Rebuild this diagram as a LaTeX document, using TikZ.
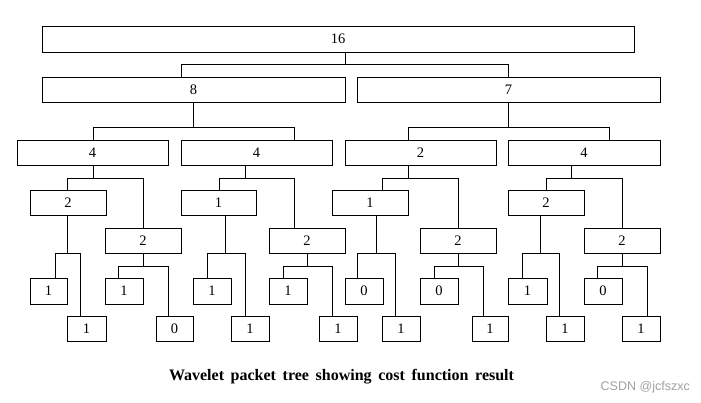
\documentclass[tikz,border=0pt]{standalone}
\usepackage{fontspec}
\setmainfont{Liberation Serif}
\newfontfamily\wmfont{Liberation Sans}
\definecolor{wmgray}{HTML}{A0A0A0}
\newcommand\wbox[6]{\node[box, minimum width={#4-#2}, minimum height={#5-#3}] (#1) at ({(#2+#4)/2},{(#3+#5)/2}) {#6};}
\newcommand\wconn[7]{%
  \coordinate (#1-j) at (#2,#3);
  \coordinate (#1-l) at (#5,#3);
  \coordinate (#1-r) at (#7,#3);
  \draw[link] (#1.south -| #1-j) -- (#1-j);
  \draw[link] (#4.north -| #1-l) -- (#1-l) -- (#1-r) -- (#6.north -| #1-r);}
\begin{document}
\begin{tikzpicture}[x=1pt,y=-1pt,
  box/.style={draw, line width=0.9pt, inner sep=0pt, outer sep=0pt, font=\fontsize{14.5}{14.5}\selectfont},
  link/.style={line width=0.9pt}]
\fill[white] (0,0) rectangle (701,402);
\useasboundingbox (0,0) rectangle (701,402);
% level 0
\wbox{n16}{42}{26}{634}{52}{16}
% level 1
\wbox{n8}{42}{77}{345}{102}{8}
\wbox{n7}{357}{77}{660}{102}{7}
% level 2
\wbox{a}{17}{140}{168}{165}{4}
\wbox{b}{181}{140}{332}{165}{4}
\wbox{c}{345}{140}{496}{165}{2}
\wbox{d}{508}{140}{660}{165}{4}
% level 3
\wbox{aa}{30}{190}{106}{215}{2}
\wbox{ab}{105}{228}{181}{253}{2}
\wbox{ba}{181}{190}{256}{215}{1}
\wbox{bb}{269}{228}{345}{253}{2}
\wbox{ca}{332}{190}{408}{215}{1}
\wbox{cb}{420}{228}{496}{253}{2}
\wbox{da}{508}{190}{584}{215}{2}
\wbox{db}{584}{228}{660}{253}{2}
% level 4
\wbox{aaa}{30}{278}{67}{304}{1}
\wbox{aab}{67}{316}{106}{341}{1}
\wbox{aba}{105}{278}{143}{304}{1}
\wbox{abb}{156}{316}{193}{341}{0}
\wbox{baa}{193}{278}{231}{304}{1}
\wbox{bab}{231}{316}{269}{341}{1}
\wbox{bba}{269}{278}{307}{304}{1}
\wbox{bbb}{319}{316}{357}{341}{1}
\wbox{caa}{345}{278}{383}{304}{0}
\wbox{cab}{382}{316}{420}{341}{1}
\wbox{cba}{420}{278}{458}{304}{0}
\wbox{cbb}{472}{316}{508}{341}{1}
\wbox{daa}{508}{278}{547}{304}{1}
\wbox{dab}{546}{316}{584}{341}{1}
\wbox{dba}{584}{278}{622}{304}{0}
\wbox{dbb}{622}{316}{660}{341}{1}
% connectors
\wconn{n16}{345}{64}{n8}{181}{n7}{508.5}
\wconn{n8}{193}{127}{a}{93}{b}{294}
\wconn{n7}{508.5}{127}{c}{408.5}{d}{609}
\wconn{a}{93}{178}{aa}{67}{ab}{143}
\wconn{b}{245}{178}{ba}{219}{bb}{294}
\wconn{c}{408.5}{178}{ca}{382}{cb}{458}
\wconn{d}{571}{178}{da}{546}{db}{622.5}
\wconn{aa}{67}{253}{aaa}{55}{aab}{80}
\wconn{ab}{143}{266.7}{aba}{118}{abb}{168}
\wconn{ba}{225.7}{253}{baa}{207}{bab}{245}
\wconn{bb}{307}{266.7}{bba}{283}{bbb}{332}
\wconn{ca}{376.3}{253}{caa}{357}{cab}{395}
\wconn{cb}{458}{266.7}{cba}{434}{cbb}{483}
\wconn{da}{540}{253}{daa}{522}{dab}{559}
\wconn{db}{622.5}{266.7}{dba}{597}{dbb}{647}
% caption
\node[anchor=base, inner sep=0pt, font=\bfseries\fontsize{16}{16}\selectfont] (cap) at (341.5,380) {\makebox[345pt][s]{Wavelet packet tree showing cost function result}};
\node[anchor=base west, inner sep=0pt, text=wmgray, font=\wmfont\fontsize{12.5}{12.5}\selectfont] (wm) at (600.5,390) {CSDN @jcfszxc};
\end{tikzpicture}
\end{document}
